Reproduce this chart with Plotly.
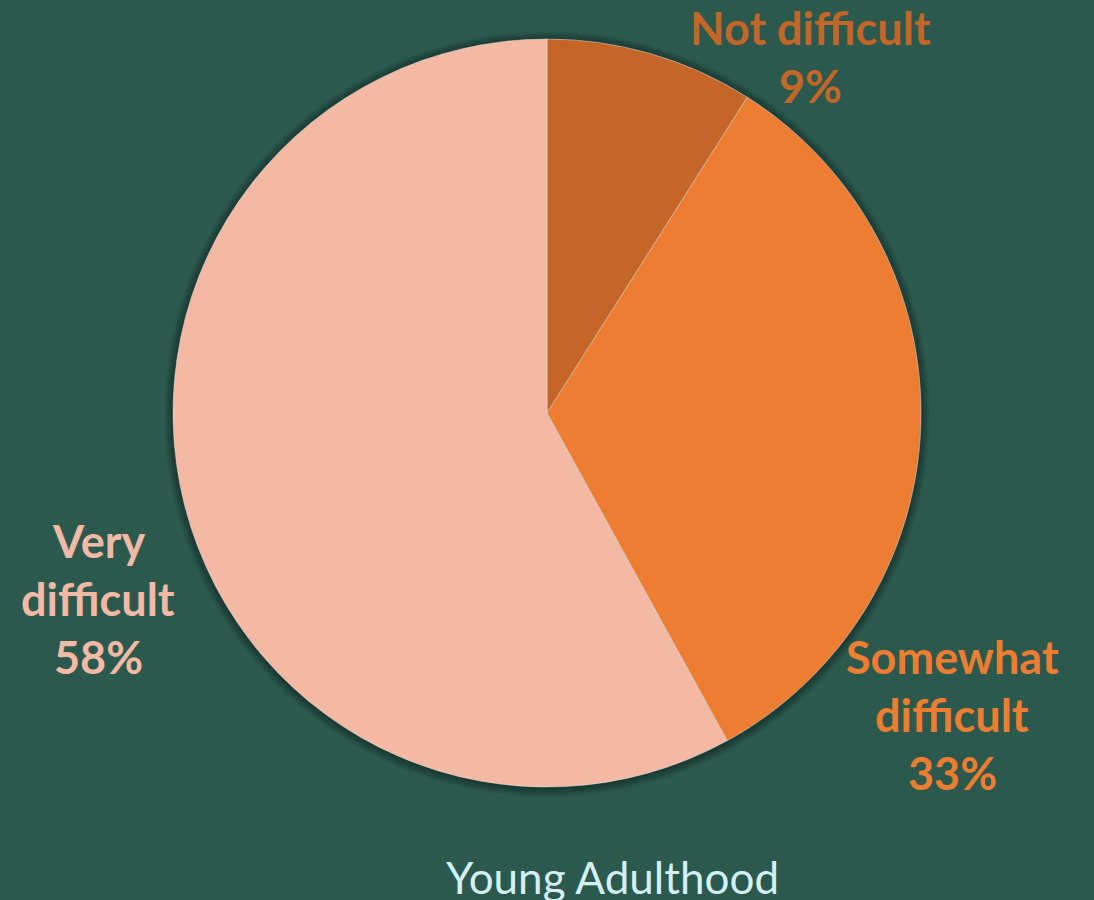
import plotly.graph_objects as go

# Survey answers for the "Young Adulthood" stage
categories = ["Not difficult", "Somewhat difficult", "Very difficult"]
values = [9, 33, 58]
slice_colors = ["#C46628", "#ED7D31", "#F4B9A5"]
label_lines = [["Not difficult"], ["Somewhat", "difficult"], ["Very", "difficult"]]
title_text = "Young Adulthood"

W, H = 1094, 900
BG = "#2B594E"
CX, CY, R = 547, 413, 374  # pie centre / radius in pixels


def domain(cx, cy, r):
    return dict(x=[(cx - r) / W, (cx + r) / W],
                y=[1 - (cy + r) / H, 1 - (cy - r) / H])


fig = go.Figure()

# soft dark halo behind the pie
for k in range(9, 0, -1):
    fig.add_trace(go.Pie(
        values=[1], labels=["halo"], sort=False,
        marker=dict(colors=["rgba(0,0,0,0.04)"], line=dict(width=0)),
        textinfo="none", hoverinfo="skip", showlegend=False,
        domain=domain(CX, CY + 1, R + k),
    ))

fig.add_trace(go.Pie(
    labels=categories, values=values, sort=False,
    direction="clockwise", rotation=0,
    marker=dict(colors=slice_colors, line=dict(color="rgba(230,230,230,0.6)", width=0.8)),
    textinfo="none", hoverinfo="label+percent", showlegend=False,
    domain=domain(CX, CY, R),
))

# label placement (pixel centre x, y of first line) and line spacing
label_pos = [(810, 28), (952, 657), (98, 541)]
LINE = 58
FONT = "Lato, 'Open Sans', sans-serif"

annotations = []
total = sum(values)
for cat, lines, val, col, (lx, ly) in zip(categories, label_lines, values, slice_colors, label_pos):
    rows = lines + [f"{round(100 * val / total)}%"]
    for i, row in enumerate(rows):
        annotations.append(dict(
            text=f"<b>{row}</b>", x=lx / W, y=1 - (ly + i * LINE) / H,
            xref="paper", yref="paper", xanchor="center", yanchor="middle",
            showarrow=False, font=dict(family=FONT, size=45, color=col),
        ))

annotations.append(dict(
    text=title_text, x=612 / W, y=1 - 877 / H, xref="paper", yref="paper",
    xanchor="center", yanchor="middle", showarrow=False,
    font=dict(family=FONT, size=44, color="#D4F0F6"),
))

fig.update_layout(
    width=W, height=H, margin=dict(l=0, r=0, t=0, b=0),
    paper_bgcolor=BG, plot_bgcolor=BG,
    annotations=annotations,
)

fig.write_html("out.html")
